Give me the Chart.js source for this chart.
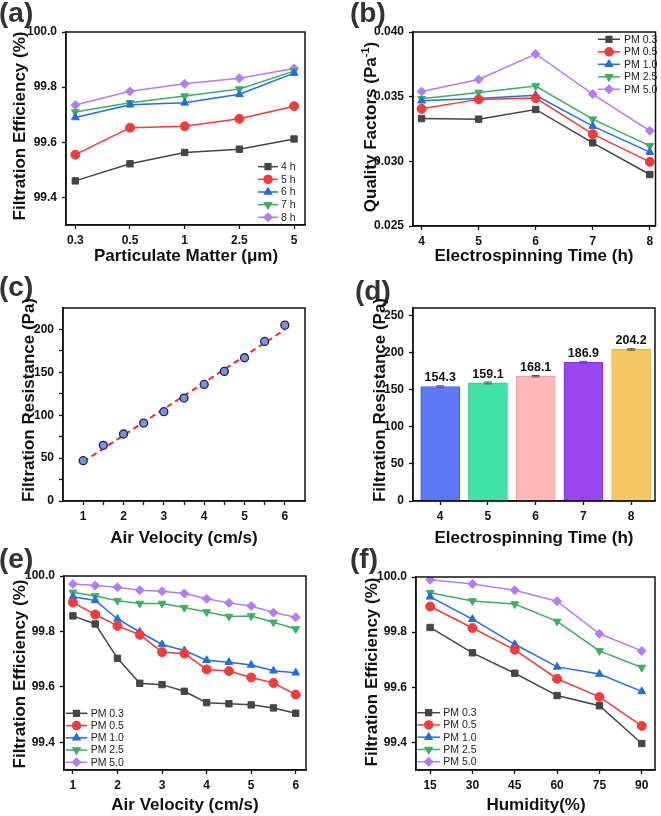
<!DOCTYPE html>
<html><head><meta charset="utf-8">
<script src="https://cdn.jsdelivr.net/npm/chart.js@4/dist/chart.umd.min.js"></script>
<style>
html,body{margin:0;padding:0;background:#fff;}
#page{position:relative;width:661px;height:816px;overflow:hidden;font-family:"Liberation Sans",Arial,sans-serif;}
canvas{position:absolute;}
.lbl{position:absolute;font-weight:bold;font-size:28px;line-height:28px;color:#333;white-space:nowrap;}
.xt{position:absolute;font-weight:bold;font-size:17px;line-height:17px;color:#111;white-space:nowrap;transform:translate(-50%,-50%);}
.yt{position:absolute;font-weight:bold;font-size:17px;line-height:17px;color:#111;white-space:nowrap;transform:translate(-50%,-50%) rotate(-90deg);}
.sup{font-size:11px;position:relative;top:-7px;}
</style></head>
<body><div id="page">
<canvas id="ca" width="330" height="270" style="left:0;top:0"></canvas>
<canvas id="cb" width="331" height="270" style="left:330px;top:0"></canvas>
<canvas id="cc" width="330" height="270" style="left:0;top:270px"></canvas>
<canvas id="cd" width="331" height="270" style="left:330px;top:270px"></canvas>
<canvas id="ce" width="330" height="276" style="left:0;top:540px"></canvas>
<canvas id="cf" width="331" height="276" style="left:330px;top:540px"></canvas>

<div class="lbl" style="left:-1px;top:-1px">(a)</div>
<div class="lbl" style="left:350px;top:-1px">(b)</div>
<div class="lbl" style="left:-1px;top:273px">(c)</div>
<div class="lbl" style="left:355px;top:277px">(d)</div>
<div class="lbl" style="left:-1px;top:545px">(e)</div>
<div class="lbl" style="left:350px;top:545px">(f)</div>

<div class="yt" style="left:19px;top:126px">Filtration Efficiency (%)</div>
<div class="xt" style="left:186px;top:255px">Particulate Matter (μm)</div>
<div class="yt" style="left:371px;top:127px">Quality Factors (Pa<span class="sup">-1</span>)</div>
<div class="xt" style="left:534px;top:255px">Electrospinning Time (h)</div>
<div class="yt" style="left:28px;top:400px">Filtration Resistance (Pa)</div>
<div class="xt" style="left:184px;top:537px">Air Velocity (cm/s)</div>
<div class="yt" style="left:379px;top:400px">Filtration Resistance (Pa)</div>
<div class="xt" style="left:534px;top:537px">Electrospinning Time (h)</div>
<div class="yt" style="left:19px;top:674px">Filtration Efficiency (%)</div>
<div class="xt" style="left:185px;top:804px">Air Velocity (cm/s)</div>
<div class="yt" style="left:371px;top:672px">Filtration Efficiency (%)</div>
<div class="xt" style="left:536px;top:804px">Humidity(%)</div>
</div>
<script>
// ================= DATA =================
// (a) filtration efficiency vs particulate matter, per electrospinning time
const pmCategories = ['0.3', '0.5', '1', '2.5', '5'];
const timeNames = ['4 h', '5 h', '6 h', '7 h', '8 h'];
const effPM_4h = [99.460, 99.522, 99.563, 99.575, 99.612];
const effPM_5h = [99.555, 99.653, 99.658, 99.685, 99.731];
const effPM_6h = [99.690, 99.736, 99.743, 99.774, 99.851];
const effPM_7h = [99.710, 99.743, 99.768, 99.793, 99.858];
const effPM_8h = [99.735, 99.785, 99.812, 99.832, 99.868];

// (b) quality factors vs electrospinning time
const pmNames = ['PM 0.3', 'PM 0.5', 'PM 1.0', 'PM 2.5', 'PM 5.0'];
const spinTimes = [4, 5, 6, 7, 8];
const qf_PM03 = [0.03331, 0.03326, 0.03401, 0.03143, 0.02898];
const qf_PM05 = [0.03406, 0.03479, 0.03489, 0.03210, 0.02996];
const qf_PM10 = [0.03468, 0.03486, 0.03510, 0.03272, 0.03071];
const qf_PM25 = [0.03484, 0.03533, 0.03582, 0.03326, 0.03120];
const qf_PM50 = [0.03540, 0.03633, 0.03830, 0.03520, 0.03236];

// (c) filtration resistance vs air velocity
const velocities = [1, 1.5, 2, 2.5, 3, 3.5, 4, 4.5, 5, 5.5, 6];
const resistanceVsVel = [47.0, 64.9, 78.1, 90.9, 104.1, 120.0, 135.9, 151.1, 167.0, 186.0, 205.0];
const fitLineX = [1, 6];
const fitLineY = [45.7, 199.7];

// (d) filtration resistance vs electrospinning time
const resistanceByTime = [154.3, 159.1, 168.1, 186.9, 204.2];
const resistanceErr = [1.0, 1.3, 1.0, 1.2, 0.9];

// (e) filtration efficiency vs air velocity
const effVel_PM03 = [99.856, 99.827, 99.703, 99.613, 99.608, 99.584, 99.543, 99.539, 99.535, 99.524, 99.505];
const effVel_PM05 = [99.904, 99.861, 99.820, 99.788, 99.725, 99.720, 99.663, 99.657, 99.634, 99.614, 99.572];
const effVel_PM10 = [99.925, 99.912, 99.845, 99.798, 99.753, 99.731, 99.696, 99.689, 99.679, 99.658, 99.651];
const effVel_PM25 = [99.941, 99.928, 99.911, 99.901, 99.901, 99.886, 99.870, 99.854, 99.856, 99.833, 99.809];
const effVel_PM50 = [99.971, 99.966, 99.959, 99.949, 99.945, 99.937, 99.918, 99.903, 99.892, 99.868, 99.851];

// (f) filtration efficiency vs humidity
const humidities = [15, 30, 45, 60, 75, 90];
const effHum_PM03 = [99.817, 99.725, 99.651, 99.570, 99.533, 99.396];
const effHum_PM05 = [99.893, 99.815, 99.736, 99.631, 99.565, 99.460];
const effHum_PM10 = [99.928, 99.847, 99.756, 99.674, 99.648, 99.585];
const effHum_PM25 = [99.943, 99.913, 99.902, 99.839, 99.732, 99.672];
const effHum_PM50 = [99.990, 99.975, 99.952, 99.912, 99.794, 99.732];

// tick values / labels
const pmTickIdx = [0, 1, 2, 3, 4];
const effTicks = [99.4, 99.6, 99.8, 100.0];
const effTickLabels = ['99.4', '99.6', '99.8', '100.0'];
const qfTicks = [0.025, 0.030, 0.035, 0.040];
const qfTickLabels = ['0.025', '0.030', '0.035', '0.040'];
const timeTicks = [4, 5, 6, 7, 8];
const timeTickLabels = ['4', '5', '6', '7', '8'];
const velMinorTicks = [1, 1.5, 2, 2.5, 3, 3.5, 4, 4.5, 5, 5.5, 6];
const velMinorLabels = ['1', '', '2', '', '3', '', '4', '', '5', '', '6'];
const resTicksC = [0, 25, 50, 75, 100, 125, 150, 175, 200];
const resTickLabelsC = ['0', '', '50', '', '100', '', '150', '', '200'];
const resTicksD = [0, 50, 100, 150, 200, 250];
const resTickLabelsD = ['0', '50', '100', '150', '200', '250'];
const velTicks = [1, 2, 3, 4, 5, 6];
const velTickLabels = ['1', '2', '3', '4', '5', '6'];
const humTicks = [15, 30, 45, 60, 75, 90];
const humTickLabels = ['15', '30', '45', '60', '75', '90'];

// ================= STYLES / HELPERS =================
const FONT = '"Liberation Sans", Arial, sans-serif';
const seriesStyles = [
  {color: '#454545', point: 'rect', rot: 0},
  {color: '#f23b3b', point: 'circle', rot: 0},
  {color: '#1f6fe3', point: 'triangle', rot: 0},
  {color: '#3aae63', point: 'triangle', rot: 180},
  {color: '#b47cf2', point: 'rectRot', rot: 0}
];
const barColors = ['#5b79f6', '#3ee2a6', '#ffb8b8', '#9a46f0', '#f6c861'];
const barBorders = ['#4862d8', '#2fc58e', '#eea3a3', '#8236d8', '#e3b24d'];

function axis(horizontal, size, min, max, vals, labels, pad) {
  return {
    type: 'linear', min: min, max: max, position: horizontal ? 'bottom' : 'left',
    offset: false,
    afterFit: s => { if (horizontal) s.height = size; else s.width = size; },
    afterBuildTicks: s => { s.ticks = vals.map(v => ({value: v})); },
    ticks: {autoSkip: false, maxRotation: 0, minRotation: 0, padding: pad, color: '#111',
      font: {family: FONT, size: 12, weight: 'bold'}, callback: (v, i) => labels[i]},
    grid: {display: true, offset: false, drawOnChartArea: false, drawTicks: true, tickLength: 4, tickWidth: 1.3, tickColor: '#111', color: '#111'},
    border: {display: true, color: '#111', width: 1.5}
  };
}

const framePlugin = {
  id: 'frame',
  afterDraw(chart) {
    const {ctx, chartArea: a} = chart;
    ctx.save(); ctx.strokeStyle = '#111'; ctx.lineWidth = 1.5;
    ctx.strokeRect(a.left, a.top, a.right - a.left, a.bottom - a.top);
    ctx.restore();
  }
};

function marker(ctx, style, rot, r, x, y) {
  if (Chart.helpers && Chart.helpers.drawPoint) {
    Chart.helpers.drawPoint(ctx, {pointStyle: style, rotation: rot, radius: r, borderWidth: 1}, x, y);
  }
}

function legendPlugin(cfg) {
  return {
    id: 'inlegend',
    afterDraw(chart) {
      const ctx = chart.ctx;
      ctx.save();
      chart.data.datasets.forEach((ds, i) => {
        const y = cfg.y + i * cfg.dy;
        ctx.strokeStyle = ds.borderColor; ctx.lineWidth = 1.5;
        ctx.beginPath(); ctx.moveTo(cfg.x0, y); ctx.lineTo(cfg.x1, y); ctx.stroke();
        ctx.fillStyle = ds.pointBackgroundColor; ctx.strokeStyle = ds.borderColor;
        marker(ctx, ds.pointStyle, ds.pointRotation, 4, (cfg.x0 + cfg.x1) / 2, y);
        ctx.fillStyle = '#222'; ctx.font = '10.5px ' + FONT; ctx.textBaseline = 'middle'; ctx.textAlign = 'left';
        ctx.fillText(ds.label, cfg.tx, y + 0.5);
      });
      ctx.restore();
    }
  };
}

function lineDatasets(names, xs, series) {
  return series.map((ys, i) => ({
    label: names[i],
    data: xs.map((x, j) => ({x: x, y: ys[j]})),
    borderColor: seriesStyles[i].color,
    backgroundColor: seriesStyles[i].color,
    pointBackgroundColor: seriesStyles[i].color,
    pointBorderColor: seriesStyles[i].color,
    pointStyle: seriesStyles[i].point,
    pointRotation: seriesStyles[i].rot,
    pointRadius: 4.5, pointBorderWidth: 1,
    borderWidth: 1.5, tension: 0, fill: false
  }));
}

// region: canvas page offset; plot: plot area in page coords
function make(id, region, plot, type, datasets, xAxisFn, yAxisFn, plugins) {
  const padTop = plot.t - region.y;
  const padRight = region.x + region.w - plot.r;
  const yW = plot.l - region.x;
  const xH = region.y + region.h - plot.b;
  return new Chart(document.getElementById(id), {
    type: type,
    data: {datasets: datasets},
    options: {
      responsive: false, animation: false, devicePixelRatio: 1,
      layout: {padding: {top: padTop, right: padRight, left: 0, bottom: 0}},
      plugins: {legend: {display: false}, tooltip: {enabled: false}, title: {display: false}},
      scales: {x: xAxisFn(xH), y: yAxisFn(yW)}
    },
    plugins: [framePlugin].concat(plugins || [])
  });
}

// ================= (a) =================
{
  const region = {x: 0, y: 0, w: 330, h: 270};
  make('ca', region, {l: 66, t: 32, r: 305, b: 225}, 'line',
    lineDatasets(timeNames, pmTickIdx, [effPM_4h, effPM_5h, effPM_6h, effPM_7h, effPM_8h]),
    h => axis(true, h, -0.17, 4.2, pmTickIdx, pmCategories, 4),
    w => axis(false, w, 99.3, 100.0, effTicks, effTickLabels, 5),
    [legendPlugin({x0: 258, x1: 278, tx: 281, y: 166.7, dy: 12.65})]);
}
// ================= (b) =================
{
  const region = {x: 330, y: 0, w: 331, h: 270};
  make('cb', region, {l: 413, t: 32, r: 656, b: 226}, 'line',
    lineDatasets(pmNames, spinTimes, [qf_PM03, qf_PM05, qf_PM10, qf_PM25, qf_PM50]),
    h => axis(true, h, 3.85, 8.1, timeTicks, timeTickLabels, 4),
    w => axis(false, w, 0.025, 0.040, qfTicks, qfTickLabels, 5),
    [legendPlugin({x0: 598 - 330, x1: 620 - 330, tx: 624 - 330, y: 39.3, dy: 12.5})]);
}
// ================= (c) =================
{
  const region = {x: 0, y: 270, w: 330, h: 270};
  const ds = [
    {label: 'data', data: velocities.map((x, i) => ({x: x, y: resistanceVsVel[i]})), showLine: false,
      pointRadius: 4, pointBackgroundColor: '#7f91d4', pointBorderColor: '#1c2058', pointBorderWidth: 1.3,
      borderColor: '#1c2058', backgroundColor: '#7f91d4'},
    {label: 'fit', data: fitLineX.map((x, i) => ({x: x, y: fitLineY[i]})), pointRadius: 0,
      borderColor: '#ee2b2b', borderWidth: 2, borderDash: [6, 4], fill: false, tension: 0}
  ];
  make('cc', region, {l: 63, t: 308, r: 305, b: 501}, 'line', ds,
    h => axis(true, h, 0.5, 6.5, velMinorTicks, velMinorLabels, 4),
    w => axis(false, w, 0, 225, resTicksC, resTickLabelsC, 5));
}
// ================= (d) =================
{
  const region = {x: 330, y: 270, w: 331, h: 270};
  const ds = [{
    label: 'resistance', data: spinTimes.map((t, i) => ({x: t, y: resistanceByTime[i]})),
    backgroundColor: barColors, borderColor: barBorders, borderWidth: 1, barThickness: 39
  }];
  const barLabelPlugin = {
    id: 'barlabels',
    afterDatasetsDraw(chart) {
      const ctx = chart.ctx, meta = chart.getDatasetMeta(0), ys = chart.scales.y;
      ctx.save();
      meta.data.forEach((bar, i) => {
        const v = resistanceByTime[i], e = resistanceErr[i];
        const yTop = ys.getPixelForValue(v + e), yBot = ys.getPixelForValue(v - e);
        ctx.strokeStyle = '#555'; ctx.lineWidth = 1;
        ctx.beginPath();
        ctx.moveTo(bar.x, yTop); ctx.lineTo(bar.x, yBot);
        ctx.moveTo(bar.x - 4, yTop); ctx.lineTo(bar.x + 4, yTop);
        ctx.moveTo(bar.x - 4, yBot); ctx.lineTo(bar.x + 4, yBot);
        ctx.stroke();
        ctx.fillStyle = '#111'; ctx.font = 'bold 12.5px ' + FONT;
        ctx.textAlign = 'center'; ctx.textBaseline = 'bottom';
        ctx.fillText(v.toFixed(1), bar.x, yTop - 1.5);
      });
      ctx.restore();
    }
  };
  make('cd', region, {l: 413, t: 308, r: 655, b: 501}, 'bar', ds,
    h => axis(true, h, 3.43, 8.5, timeTicks, timeTickLabels, 4),
    w => axis(false, w, 0, 260, resTicksD, resTickLabelsD, 5), [barLabelPlugin]);
}
// ================= (e) =================
{
  const region = {x: 0, y: 540, w: 330, h: 276};
  make('ce', region, {l: 64, t: 576, r: 306, b: 770}, 'line',
    lineDatasets(pmNames, velocities, [effVel_PM03, effVel_PM05, effVel_PM10, effVel_PM25, effVel_PM50]),
    h => axis(true, h, 0.8, 6.23, velTicks, velTickLabels, 4),
    w => axis(false, w, 99.3, 100.0, effTicks, effTickLabels, 5),
    [legendPlugin({x0: 65.7, x1: 87.3, tx: 90.7, y: 713.3 - 540, dy: 12.25})]);
}
// ================= (f) =================
{
  const region = {x: 330, y: 540, w: 331, h: 276};
  make('cf', region, {l: 416, t: 577, r: 655, b: 770}, 'line',
    lineDatasets(pmNames, humidities, [effHum_PM03, effHum_PM05, effHum_PM10, effHum_PM25, effHum_PM50]),
    h => axis(true, h, 10, 94.7, humTicks, humTickLabels, 4),
    w => axis(false, w, 99.3, 100.0, effTicks, effTickLabels, 5),
    [legendPlugin({x0: 417.3 - 330, x1: 440 - 330, tx: 443.3 - 330, y: 712.7 - 540, dy: 12.25})]);
}
</script>
</body></html>
